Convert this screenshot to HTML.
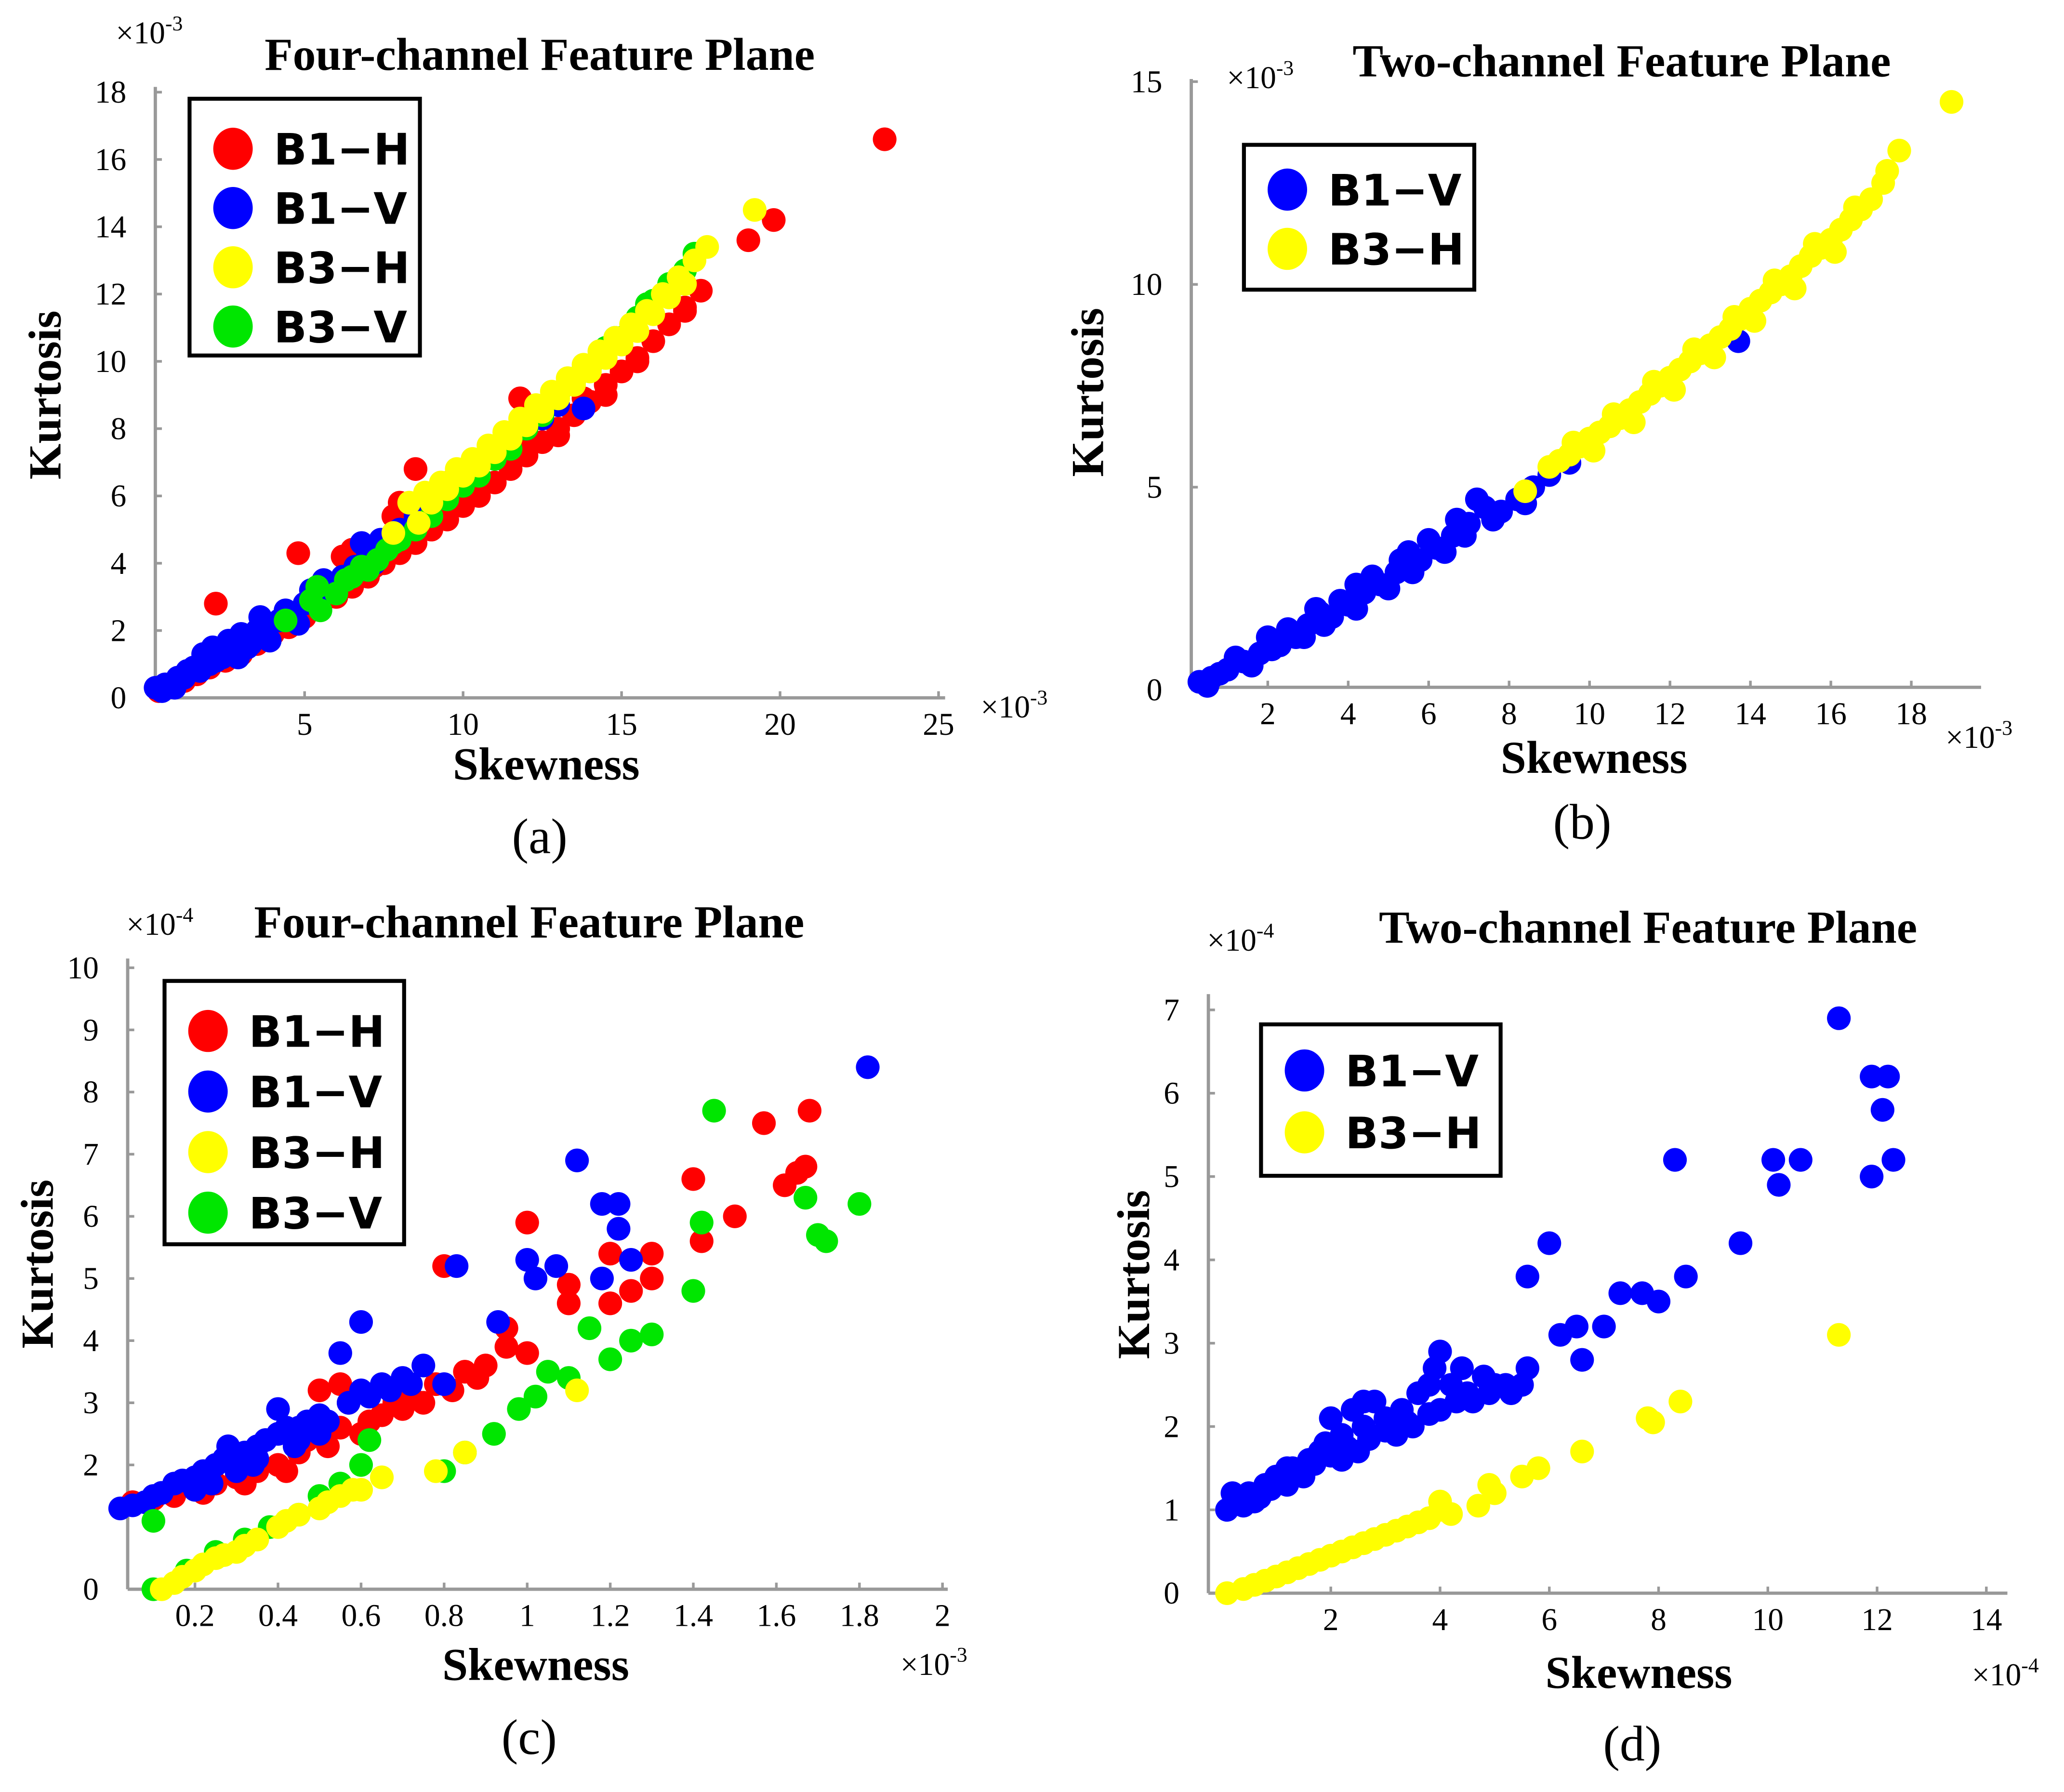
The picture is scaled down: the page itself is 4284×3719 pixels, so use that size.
<!DOCTYPE html>
<html><head><meta charset="utf-8"><style>
html,body{margin:0;padding:0;background:#fff;}
svg{display:block;}
.tk{font-family:"Liberation Serif",serif;font-size:24px;fill:#000;}
.ttl{font-family:"Liberation Serif",serif;font-size:35px;font-weight:bold;fill:#000;}
.ax{font-family:"Liberation Serif",serif;font-size:35px;font-weight:bold;fill:#000;}
.lab{font-family:"Liberation Serif",serif;font-size:38px;fill:#000;}
.lg{font-family:"DejaVu Sans","Liberation Sans",sans-serif;font-size:33px;font-weight:bold;fill:#000;}
.ex{font-family:"Liberation Serif",serif;font-size:24px;fill:#000;}
</style></head><body>
<svg id="fig" width="4284" height="3719" viewBox="0 0 1568 1361" preserveAspectRatio="none" xmlns="http://www.w3.org/2000/svg"></svg>
<script>
// ---- data (a) Four-channel, x: ×1e-3, y: ×1e-3
const aB1H=[[0.4,0.2],[0.8,0.4],[1.2,0.5],[1.6,0.7],[2,0.9],[2.5,1.1],[3,1.3],[3.5,1.6],[4,1.9],[4.5,2.1],[5,2.4],[5.5,2.7],[6,3],[6.5,3.3],[7,3.6],[7.5,4],[8,4.3],[8.5,4.6],[9,5],[9.5,5.3],[10,5.7],[10.5,6],[11,6.4],[11.5,6.8],[12,7.2],[12.5,7.6],[13,8],[13.5,8.4],[14,8.8],[14.5,9.3],[15,9.7],[15.5,10.1],[16,10.6],[16.5,11.1],[17,11.6],[2.2,2.8],[4.8,4.3],[8.5,6.8],[11.8,8.9],[8,5.8],[7.8,5.4],[6.5,4.4],[19,13.6],[19.8,14.2],[23.3,16.6],[17,11.5],[17.5,12.1],[14.5,9],[15.5,10],[13,7.8],[10.5,6.3],[9.7,6.5],[6.2,4.2],[7.2,3.9],[9.2,5.4],[10.2,6.6],[12.2,7.6],[13.8,8.9]];
const aB1V=[[0.3,0.3],[0.6,0.4],[1,0.6],[1.3,0.8],[1.5,0.9],[1.8,1.3],[2.2,1.1],[2.7,1.4],[3,1.9],[3.3,1.6],[3.8,1.9],[3.6,2.4],[4.2,2.3],[4.6,2.4],[5,2.8],[5.4,3.1],[5.6,3.5],[5.8,3.4],[6.2,3.6],[6.6,3.9],[7,4.3],[7.4,4.7],[8,5],[8.5,5.4],[9,5.8],[10,6.4],[11,7.2],[12,8],[13,8.7],[13.8,8.6],[12.5,8.3],[2,1.0],[2.4,1.2],[3.2,1.5],[0.5,0.2],[0.9,0.3],[1.2,0.6],[1.7,0.8],[2.1,1.5],[2.6,1.7],[2.9,1.2],[3.5,2.0],[3.9,1.7],[4.4,2.6],[4.8,2.2],[5.2,3.2],[6,3.2],[6.8,4.6],[7.2,4.0]];
const aB3V=[[4.4,2.3],[5.2,2.9],[5.5,2.6],[6,3.1],[6.5,3.6],[7,3.8],[7.3,4.1],[7.6,4.4],[8,4.7],[8.5,5],[9,5.4],[9.5,5.9],[10,6.3],[10.5,6.6],[11,7.1],[11.5,7.4],[12,8],[12.5,8.4],[13,9],[13.5,9.4],[14,9.8],[14.5,10.4],[15,10.7],[15.5,11.3],[16,11.8],[16.5,12.3],[17,12.7],[17.3,13.2],[5.4,3.3],[6.3,3.5],[6.8,3.9],[7.8,4.6],[9.8,6.5],[10.8,7.2],[11.8,8.0],[12.8,8.9],[13.8,9.8],[14.8,10.7],[15.8,11.7]];
const aB3H=[[7.8,4.9],[8.3,5.8],[8.8,6.1],[9.3,6.4],[9.8,6.8],[10.3,7.1],[10.8,7.5],[11.3,7.9],[11.8,8.3],[12.3,8.7],[12.8,9.1],[13.3,9.5],[13.8,9.9],[14.3,10.3],[14.8,10.7],[15.3,11.1],[15.8,11.5],[16.3,12],[16.8,12.5],[17.3,13],[17.7,13.4],[19.2,14.5],[9,5.8],[9.5,6.2],[10,6.6],[10.5,6.9],[11,7.3],[11.5,7.7],[12,8.1],[12.5,8.5],[13,8.9],[13.5,9.3],[14,9.7],[14.5,10.1],[15,10.5],[15.5,10.9],[16,11.4],[16.5,11.9],[17,12.3],[8.6,5.2]];
const aXTicks=[5,10,15,20,25];
const aYTicks=[0,2,4,6,8,10,12,14,16,18];
// ---- data (b) Two-channel, ×1e-3
const bB1V=[[0.3,0.2],[0.6,0.3],[1,0.5],[1.4,0.7],[1.8,0.9],[2,1.3],[2.3,1.1],[2.7,1.3],[3,1.6],[3.3,1.9],[3.6,1.8],[4,2.1],[4.4,2.4],[4.8,2.6],[5.2,2.9],[5.5,3.4],[5.8,3.2],[6.2,3.5],[6.6,3.8],[7,4.1],[7.4,4.5],[7.8,4.4],[8.2,4.7],[8.6,5],[9,5.3],[9.5,5.6],[11,6.8],[13.7,8.6],[1.2,0.8],[2.5,1.5],[3.8,2.2],[4.6,2.8],[6,3.7],[7.2,4.7],[0.5,0.1],[0.8,0.4],[1.6,0.6],[2.1,1.0],[2.9,1.3],[3.4,1.6],[4.2,2.0],[5,2.5],[5.6,2.9],[6.4,3.4],[6.9,3.8],[7.6,4.2],[8.4,4.6],[3.2,2.0],[4.2,2.6],[5.3,3.2],[6.7,4.2]];
const bB3H=[[8.4,4.9],[9,5.5],[9.5,5.8],[10,6.2],[10.5,6.5],[11,6.9],[11.5,7.3],[12,7.7],[12.5,8.1],[13,8.5],[13.5,8.9],[14,9.4],[14.5,9.8],[15,10.2],[15.5,10.7],[16,11.1],[16.5,11.6],[17,12.1],[17.7,13.3],[19,14.5],[9.25,5.65],[9.75,6],[10.25,6.35],[10.75,6.7],[11.25,7.1],[11.75,7.5],[12.25,7.9],[12.75,8.3],[13.25,8.7],[13.75,9.15],[14.25,9.6],[14.75,10],[15.25,10.45],[15.75,10.9],[16.25,11.35],[16.75,11.85],[17.3,12.5],[9.6,6.1],[10.6,6.8],[11.6,7.6],[12.6,8.4],[13.6,9.2],[14.6,10.1],[15.6,11.0],[16.6,11.9],[17.4,12.8],[10.1,5.9],[11.1,6.6],[12.1,7.4],[13.1,8.2],[14.1,9.1],[15.1,9.9],[16.1,10.8]];
const bXTicks=[2,4,6,8,10,12,14,16,18];
const bYTicks=[0,5,10,15];
// ---- data (c) Four-channel, x ×1e-3, y ×1e-4
const cB1H=[[0.05,1.4],[0.15,1.5],[0.25,1.7],[0.35,1.9],[0.45,2.2],[0.55,2.6],[0.5,3.2],[0.55,3.3],[0.65,2.8],[0.7,2.9],[0.75,3],[0.8,5.2],[0.85,3.5],[0.9,3.6],[0.95,4.2],[0.95,3.9],[1,5.9],[1,3.8],[1.1,4.9],[1.1,4.6],[1.2,5.4],[1.2,4.6],[1.25,4.8],[1.3,5.4],[1.3,5],[1.4,6.6],[1.42,5.6],[1.5,6],[1.57,7.5],[1.62,6.5],[1.65,6.7],[1.67,6.8],[1.68,7.7],[0.6,2.5],[0.4,2],[0.3,1.8],[0.2,1.6],[0.78,3.3],[0.72,3.1],[0.1,1.45],[0.22,1.55],[0.32,1.7],[0.42,1.9],[0.52,2.3],[0.62,2.7],[0.68,3.0],[0.82,3.2],[0.88,3.4],[0.57,3.0],[0.47,2.4]];
const cB1V=[[0.02,1.3],[0.1,1.5],[0.15,1.7],[0.2,1.8],[0.25,2],[0.3,2.1],[0.35,2.3],[0.4,2.5],[0.4,2.9],[0.45,2.6],[0.5,2.8],[0.55,3.8],[0.6,4.3],[0.6,3.2],[0.65,3.3],[0.7,3.4],[0.75,3.6],[0.8,3.3],[0.83,5.2],[0.93,4.3],[1,5.3],[1.02,5],[1.07,5.2],[1.12,6.9],[1.18,6.2],[1.22,6.2],[1.22,5.8],[1.18,5],[1.25,5.3],[1.82,8.4],[0.3,1.9],[0.2,1.6],[0.45,2.4],[0.5,2.5],[0.08,1.4],[0.35,2.1],[0.28,2.3],[0.05,1.35],[0.12,1.55],[0.17,1.75],[0.22,1.9],[0.27,2.1],[0.32,2.2],[0.37,2.4],[0.42,2.6],[0.47,2.7],[0.52,2.7],[0.57,3.0],[0.62,3.1],[0.67,3.2],[0.72,3.3],[0.24,1.7],[0.34,2.0],[0.44,2.3]];
const cB3V=[[0.1,0],[0.1,1.1],[0.18,0.3],[0.25,0.6],[0.32,0.8],[0.38,1],[0.45,1.2],[0.5,1.5],[0.55,1.7],[0.6,2],[0.62,2.4],[0.8,1.9],[0.85,2.2],[0.92,2.5],[0.98,2.9],[1.02,3.1],[1.05,3.5],[1.1,3.4],[1.15,4.2],[1.2,3.7],[1.25,4],[1.3,4.1],[1.4,4.8],[1.42,5.9],[1.45,7.7],[1.67,6.3],[1.7,5.7],[1.8,6.2],[1.72,5.6]];
const cB3H=[[0.12,0],[0.15,0.1],[0.2,0.3],[0.25,0.5],[0.3,0.6],[0.35,0.8],[0.4,1],[0.45,1.2],[0.5,1.3],[0.55,1.5],[0.6,1.6],[0.65,1.8],[0.78,1.9],[0.85,2.2],[1.12,3.2],[0.17,0.2],[0.22,0.4],[0.27,0.55],[0.32,0.7],[0.42,1.1],[0.52,1.4],[0.58,1.6]];
const cXTicks=[0.2,0.4,0.6,0.8,1,1.2,1.4,1.6,1.8,2];
const cYTicks=[0,2,3,4,5,6,7,8,9,10];
// ---- data (d) Two-channel, ×1e-4
const dB1V=[[0.1,1],[0.3,1.1],[0.5,1.2],[0.8,1.3],[1,1.4],[1.3,1.5],[1.6,1.6],[1.9,1.8],[2.2,1.9],[2,2.1],[2.4,2.2],[2.6,2],[2.8,2.3],[3,2.1],[3.3,2.2],[3.6,2.4],[3.9,2.7],[4.2,2.5],[4.5,2.4],[4.8,2.6],[5.2,2.5],[5.6,2.7],[5.6,3.8],[6,4.2],[6.2,3.1],[6.5,3.2],[6.6,2.8],[7,3.2],[7.3,3.6],[7.7,3.6],[8,3.5],[8.3,5.2],[8.5,3.8],[9.5,4.2],[10.1,5.2],[10.2,4.9],[10.6,5.2],[11.3,6.9],[11.9,6.2],[12.2,6.2],[12.1,5.8],[11.9,5],[12.3,5.2],[0.6,1.1],[1.5,1.4],[3.5,2],[4,2.9],[2.5,1.7],[3.2,1.9],[4,2.2],[4.6,2.3],[5.3,2.4],[0.2,1.2],[1.2,1.3],[2.2,1.6],[0.4,1.05],[0.7,1.15],[0.9,1.25],[1.1,1.35],[1.4,1.45],[1.7,1.55],[2.0,1.65],[2.3,1.75],[2.7,1.85],[3.0,1.95],[3.4,2.05],[3.8,2.15],[4.3,2.3],[4.9,2.4],[1.2,1.5],[1.8,1.7],[2.6,2.3],[3.8,2.5],[4.4,2.7],[5,2.5],[5.5,2.5]];
const dB3H=[[0.1,0],[0.4,0.05],[0.8,0.15],[1.2,0.25],[1.6,0.35],[2,0.45],[2.4,0.55],[2.8,0.65],[3.2,0.75],[3.6,0.85],[4,1],[4,1.1],[5,1.2],[4.9,1.3],[5.5,1.4],[5.8,1.5],[6.6,1.7],[7.8,2.1],[7.9,2.05],[8.4,2.3],[11.3,3.1],[4.7,1.05],[0.6,0.1],[1,0.2],[1.4,0.3],[1.8,0.4],[2.2,0.5],[2.6,0.6],[3,0.7],[3.4,0.8],[3.8,0.9],[4.2,0.95]];
const dXTicks=[2,4,6,8,10,12,14];
const dYTicks=[0,1,2,3,4,5,6,7];

const NS='http://www.w3.org/2000/svg';
const svg=document.getElementById('fig');
function mk(tag,attrs,parent,text){const e=document.createElementNS(NS,tag);for(const k in attrs)e.setAttribute(k,attrs[k]);if(text!==undefined)e.textContent=text;(parent||svg).appendChild(e);return e;}

function panel(p){
  const g=mk('g',{});
  
  
  const X=v=>p.x0+(v-p.xmin)*(p.x1-p.x0)/(p.xmax-p.xmin);
  const Y=v=>p.y0+(v-p.ymin)*(p.y1-p.y0)/(p.ymax-p.ymin);
  const ya=mk('line',{x1:p.axX,y1:p.axYtop,x2:p.axX,y2:p.axY,stroke:'#999','stroke-width':2.5},g);
  
  const xa=mk('line',{x1:p.axX,y1:p.axY,x2:p.axXright,y2:p.axY,stroke:'#999','stroke-width':2.5},g);
  
  p.xt.forEach(v=>{mk('line',{x1:X(v),y1:p.axY,x2:X(v),y2:p.axY-5,stroke:'#999','stroke-width':2},g);
    const t=mk('text',{x:X(v),y:p.axY+28,'text-anchor':'middle',class:'tk'},g,String(v));
    });
  p.yt.forEach(v=>{mk('line',{x1:p.axX,y1:Y(v),x2:p.axX+5,y2:Y(v),stroke:'#999','stroke-width':2},g);
    const t=mk('text',{x:p.axX-22,y:Y(v)+8,'text-anchor':'end',class:'tk'},g,String(v));
    });
  p.series.forEach(s=>{
    const sg=mk('g',{fill:s.c},g);
    
    
    s.d.forEach(pt=>{const c=mk('circle',{cx:X(pt[0]),cy:Y(pt[1]),r:p.r},sg);
      
      });
  });
  const tt=mk('text',{x:p.tx,y:p.ty,'text-anchor':'middle',class:'ttl'},g,p.title);
  
  const xl=mk('text',{x:p.xlx,y:p.xly,'text-anchor':'middle',class:'ax'},g,'Skewness');
  
  const yl=mk('text',{x:0,y:0,'text-anchor':'middle',class:'ax',transform:`translate(${p.ylx},${p.yly}) rotate(-90)`},g,'Kurtosis');
  
  const lb=mk('text',{x:p.lbx,y:p.lby,'text-anchor':'middle',class:'lab'},g,p.lab);
  
  const ye=mk('text',{x:p.yex,y:p.yey,class:'ex'},g,'×10');mk('tspan',{dy:-10,'font-size':16},ye,p.ye);
  
  const xe=mk('text',{x:p.xex,y:p.xey,class:'ex'},g,'×10');mk('tspan',{dy:-10,'font-size':16},xe,p.xe);
  
  const L=p.leg;const lg=mk('g',{},g);
  
  mk('rect',{x:L.x,y:L.y,width:L.w,height:L.h,fill:'#fff',stroke:'#000','stroke-width':3},lg);
  p.series.slice().sort((a,b)=>a.o-b.o).forEach((s,i)=>{
    const e=mk('g',{},lg);
    
    const cy=L.y+L.first+i*L.step;
    mk('ellipse',{cx:L.x+33,cy:cy,rx:15,ry:16,fill:s.c},e);
    mk('text',{x:L.x+64,y:cy+12,class:'lg'},e,s.n.replace('-','\u2212'));
  });
}
const R='#ff0000',B='#0000ff',Yl='#ffff00',G='#00e600';
panel({id:'a',xmin:0,xmax:25,x0:111,x1:713,ymin:0,ymax:18,y0:530,y1:70,axX:118,axYtop:66,axY:530,axXright:718,xt:aXTicks,yt:aYTicks,r:9,
 series:[{n:'B1-H',c:R,d:aB1H,o:0},{n:'B1-V',c:B,d:aB1V,o:1},{n:'B3-V',c:G,d:aB3V,o:3},{n:'B3-H',c:Yl,d:aB3H,o:2}],
 title:'Four-channel Feature Plane',tx:410,ty:53,xlx:415,xly:592,ylx:46,yly:300,lbx:410,lby:648,lab:'(a)',yex:88,yey:33,ye:'-3',xex:745,xey:545,xe:'-3',
 leg:{x:144,y:75,w:175,h:195,first:38,step:45}});
panel({id:'b',xmin:0,xmax:18,x0:902,x1:1452,ymin:0,ymax:15,y0:524,y1:62,axX:905,axYtop:60,axY:522,axXright:1505,xt:bXTicks,yt:bYTicks,r:9,
 series:[{n:'B1-V',c:B,d:bB1V,o:0},{n:'B3-H',c:Yl,d:bB3H,o:1}],
 title:'Two-channel Feature Plane',tx:1232,ty:58,xlx:1211,xly:587,ylx:838,yly:298,lbx:1202,lby:637,lab:'(b)',yex:932,yey:67,ye:'-3',xex:1478,xey:568,xe:'-3',
 leg:{x:945,y:110,w:175,h:110,first:34,step:45}});
panel({id:'c',xmin:0,xmax:2,x0:85,x1:716,ymin:0,ymax:10,y0:1207,y1:735,axX:97,axYtop:728,axY:1207,axXright:720,xt:cXTicks,yt:cYTicks,r:9,
 series:[{n:'B1-H',c:R,d:cB1H,o:0},{n:'B1-V',c:B,d:cB1V,o:1},{n:'B3-V',c:G,d:cB3V,o:3},{n:'B3-H',c:Yl,d:cB3H,o:2}],
 title:'Four-channel Feature Plane',tx:402,ty:712,xlx:407,xly:1276,ylx:40,yly:960,lbx:402,lby:1332,lab:'(c)',yex:96,yey:710,ye:'-4',xex:684,xey:1272,xe:'-3',
 leg:{x:125,y:745,w:182,h:200,first:38,step:46}});
panel({id:'d',xmin:0,xmax:14,x0:928,x1:1509,ymin:0,ymax:7,y0:1210,y1:767,axX:918,axYtop:755,axY:1210,axXright:1525,xt:dXTicks,yt:dYTicks,r:9,
 series:[{n:'B1-V',c:B,d:dB1V,o:0},{n:'B3-H',c:Yl,d:dB3H,o:1}],
 title:'Two-channel Feature Plane',tx:1252,ty:716,xlx:1245,xly:1282,ylx:873,yly:968,lbx:1240,lby:1337,lab:'(d)',yex:917,yey:722,ye:'-4',xex:1498,xey:1280,xe:'-4',
 leg:{x:958,y:778,w:182,h:115,first:35,step:47}});
</script>
</body></html>
